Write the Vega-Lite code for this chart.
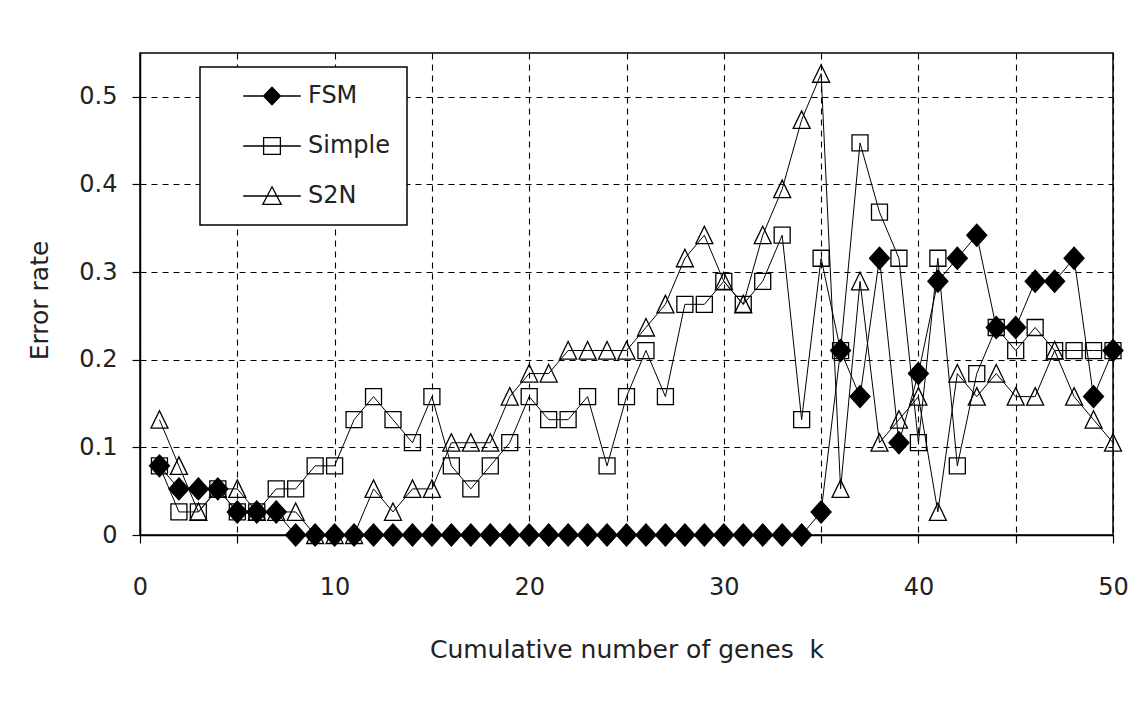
{
  "$schema": "https://vega.github.io/schema/vega-lite/v6.json",
  "autosize": {"type": "none"},
  "padding": {"left": 140, "top": 53, "right": 34, "bottom": 182},
  "width": 973,
  "height": 482,
  "background": "white",
  "data": {"values": [
    {"k":1,"series":"FSM","v":0.0789},{"k":2,"series":"FSM","v":0.0526},{"k":3,"series":"FSM","v":0.0526},{"k":4,"series":"FSM","v":0.0526},{"k":5,"series":"FSM","v":0.0263},
    {"k":6,"series":"FSM","v":0.0263},{"k":7,"series":"FSM","v":0.0263},{"k":8,"series":"FSM","v":0},{"k":9,"series":"FSM","v":0},{"k":10,"series":"FSM","v":0},
    {"k":11,"series":"FSM","v":0},{"k":12,"series":"FSM","v":0},{"k":13,"series":"FSM","v":0},{"k":14,"series":"FSM","v":0},{"k":15,"series":"FSM","v":0},
    {"k":16,"series":"FSM","v":0},{"k":17,"series":"FSM","v":0},{"k":18,"series":"FSM","v":0},{"k":19,"series":"FSM","v":0},{"k":20,"series":"FSM","v":0},
    {"k":21,"series":"FSM","v":0},{"k":22,"series":"FSM","v":0},{"k":23,"series":"FSM","v":0},{"k":24,"series":"FSM","v":0},{"k":25,"series":"FSM","v":0},
    {"k":26,"series":"FSM","v":0},{"k":27,"series":"FSM","v":0},{"k":28,"series":"FSM","v":0},{"k":29,"series":"FSM","v":0},{"k":30,"series":"FSM","v":0},
    {"k":31,"series":"FSM","v":0},{"k":32,"series":"FSM","v":0},{"k":33,"series":"FSM","v":0},{"k":34,"series":"FSM","v":0},{"k":35,"series":"FSM","v":0.0263},
    {"k":36,"series":"FSM","v":0.2105},{"k":37,"series":"FSM","v":0.1579},{"k":38,"series":"FSM","v":0.3158},{"k":39,"series":"FSM","v":0.1053},{"k":40,"series":"FSM","v":0.1842},
    {"k":41,"series":"FSM","v":0.2895},{"k":42,"series":"FSM","v":0.3158},{"k":43,"series":"FSM","v":0.3421},{"k":44,"series":"FSM","v":0.2368},{"k":45,"series":"FSM","v":0.2368},
    {"k":46,"series":"FSM","v":0.2895},{"k":47,"series":"FSM","v":0.2895},{"k":48,"series":"FSM","v":0.3158},{"k":49,"series":"FSM","v":0.1579},{"k":50,"series":"FSM","v":0.2105},

    {"k":1,"series":"Simple","v":0.0789},{"k":2,"series":"Simple","v":0.0263},{"k":3,"series":"Simple","v":0.0263},{"k":4,"series":"Simple","v":0.0526},{"k":5,"series":"Simple","v":0.0263},
    {"k":6,"series":"Simple","v":0.0263},{"k":7,"series":"Simple","v":0.0526},{"k":8,"series":"Simple","v":0.0526},{"k":9,"series":"Simple","v":0.0789},{"k":10,"series":"Simple","v":0.0789},
    {"k":11,"series":"Simple","v":0.1316},{"k":12,"series":"Simple","v":0.1579},{"k":13,"series":"Simple","v":0.1316},{"k":14,"series":"Simple","v":0.1053},{"k":15,"series":"Simple","v":0.1579},
    {"k":16,"series":"Simple","v":0.0789},{"k":17,"series":"Simple","v":0.0526},{"k":18,"series":"Simple","v":0.0789},{"k":19,"series":"Simple","v":0.1053},{"k":20,"series":"Simple","v":0.1579},
    {"k":21,"series":"Simple","v":0.1316},{"k":22,"series":"Simple","v":0.1316},{"k":23,"series":"Simple","v":0.1579},{"k":24,"series":"Simple","v":0.0789},{"k":25,"series":"Simple","v":0.1579},
    {"k":26,"series":"Simple","v":0.2105},{"k":27,"series":"Simple","v":0.1579},{"k":28,"series":"Simple","v":0.2632},{"k":29,"series":"Simple","v":0.2632},{"k":30,"series":"Simple","v":0.2895},
    {"k":31,"series":"Simple","v":0.2632},{"k":32,"series":"Simple","v":0.2895},{"k":33,"series":"Simple","v":0.3421},{"k":34,"series":"Simple","v":0.1316},{"k":35,"series":"Simple","v":0.3158},
    {"k":36,"series":"Simple","v":0.2105},{"k":37,"series":"Simple","v":0.4474},{"k":38,"series":"Simple","v":0.3684},{"k":39,"series":"Simple","v":0.3158},{"k":40,"series":"Simple","v":0.1053},
    {"k":41,"series":"Simple","v":0.3158},{"k":42,"series":"Simple","v":0.0789},{"k":43,"series":"Simple","v":0.1842},{"k":44,"series":"Simple","v":0.2368},{"k":45,"series":"Simple","v":0.2105},
    {"k":46,"series":"Simple","v":0.2368},{"k":47,"series":"Simple","v":0.2105},{"k":48,"series":"Simple","v":0.2105},{"k":49,"series":"Simple","v":0.2105},{"k":50,"series":"Simple","v":0.2105},

    {"k":1,"series":"S2N","v":0.1316},{"k":2,"series":"S2N","v":0.0789},{"k":3,"series":"S2N","v":0.0263},{"k":4,"series":"S2N","v":0.0526},{"k":5,"series":"S2N","v":0.0526},
    {"k":6,"series":"S2N","v":0.0263},{"k":7,"series":"S2N","v":0.0263},{"k":8,"series":"S2N","v":0.0263},{"k":9,"series":"S2N","v":0},{"k":10,"series":"S2N","v":0},
    {"k":11,"series":"S2N","v":0},{"k":12,"series":"S2N","v":0.0526},{"k":13,"series":"S2N","v":0.0263},{"k":14,"series":"S2N","v":0.0526},{"k":15,"series":"S2N","v":0.0526},
    {"k":16,"series":"S2N","v":0.1053},{"k":17,"series":"S2N","v":0.1053},{"k":18,"series":"S2N","v":0.1053},{"k":19,"series":"S2N","v":0.1579},{"k":20,"series":"S2N","v":0.1842},
    {"k":21,"series":"S2N","v":0.1842},{"k":22,"series":"S2N","v":0.2105},{"k":23,"series":"S2N","v":0.2105},{"k":24,"series":"S2N","v":0.2105},{"k":25,"series":"S2N","v":0.2105},
    {"k":26,"series":"S2N","v":0.2368},{"k":27,"series":"S2N","v":0.2632},{"k":28,"series":"S2N","v":0.3158},{"k":29,"series":"S2N","v":0.3421},{"k":30,"series":"S2N","v":0.2895},
    {"k":31,"series":"S2N","v":0.2632},{"k":32,"series":"S2N","v":0.3421},{"k":33,"series":"S2N","v":0.3947},{"k":34,"series":"S2N","v":0.4737},{"k":35,"series":"S2N","v":0.5263},
    {"k":36,"series":"S2N","v":0.0526},{"k":37,"series":"S2N","v":0.2895},{"k":38,"series":"S2N","v":0.1053},{"k":39,"series":"S2N","v":0.1316},{"k":40,"series":"S2N","v":0.1579},
    {"k":41,"series":"S2N","v":0.0263},{"k":42,"series":"S2N","v":0.1842},{"k":43,"series":"S2N","v":0.1579},{"k":44,"series":"S2N","v":0.1842},{"k":45,"series":"S2N","v":0.1579},
    {"k":46,"series":"S2N","v":0.1579},{"k":47,"series":"S2N","v":0.2105},{"k":48,"series":"S2N","v":0.1579},{"k":49,"series":"S2N","v":0.1316},{"k":50,"series":"S2N","v":0.1053}
  ]},
  "encoding": {
    "x": {
      "field": "k", "type": "quantitative",
      "scale": {"domain": [0, 50], "nice": false, "zero": false},
      "axis": {
        "title": "Cumulative number of genes \u00a0k",
        "values": [0, 5, 10, 15, 20, 25, 30, 35, 40, 45, 50],
        "labelExpr": "datum.value % 10 === 0 ? datum.label : ''",
        "labelPadding": 32,
        "titlePadding": 38
      }
    },
    "y": {
      "field": "v", "type": "quantitative",
      "scale": {"domain": [0, 0.55], "nice": false},
      "axis": {
        "title": "Error rate",
        "values": [0, 0.1, 0.2, 0.3, 0.4, 0.5],
        "format": ".1~f",
        "labelPadding": 15,
        "titleX": -93,
        "titleY": 247,
        "titleBaseline": "alphabetic",
        "titleAlign": "center",
        "titleAngle": -90
      }
    }
  },
  "layer": [
    {
      "mark": {"type": "line", "stroke": "black", "strokeWidth": 1},
      "encoding": {"detail": {"field": "series"}}
    },
    {
      "mark": {"type": "point", "filled": true, "stroke": "black", "strokeWidth": 1.3, "size": 400, "opacity": 1},
      "encoding": {
        "shape": {
          "field": "series", "type": "nominal",
          "scale": {
            "domain": ["FSM", "Simple", "S2N"],
            "range": ["M0,-1.1L1,0L0,1.1L-1,0Z", "M-0.8,-0.8H0.8V0.8H-0.8Z", "M0,-0.9L0.85,0.85H-0.85Z"]
          },
          "legend": null
        },
        "fill": {
          "field": "series", "type": "nominal",
          "scale": {"domain": ["FSM", "Simple", "S2N"], "range": ["black", "transparent", "transparent"]},
          "legend": null
        }
      }
    },
    {
      "transform": [{"filter": "datum.k > 1000"}],
      "mark": {"type": "point", "filled": true, "stroke": "black", "strokeWidth": 1.3, "size": 256, "opacity": 1},
      "encoding": {
        "shape": {
          "field": "series", "type": "nominal",
          "scale": {
            "domain": ["FSM", "Simple", "S2N"],
            "range": ["M-3.6,0H3.6M0,-1.1L1.05,0L0,1.1L-1.05,0Z", "M-3.6,0H3.6M-1.05,-1.05H1.05V1.05H-1.05Z", "M-3.6,0H3.6M0,-1.15L1.15,1.05H-1.15Z"]
          },
          "legend": {
            "title": null, "orient": "none", "legendX": 60, "legendY": 14,
            "encode": {"symbols": {"update": {"stroke": {"value": "black"}, "strokeWidth": {"value": 1.3}, "opacity": {"value": 1}}}}
          }
        },
        "fill": {
          "field": "series", "type": "nominal",
          "scale": {"domain": ["FSM", "Simple", "S2N"], "range": ["black", "transparent", "transparent"]},
          "legend": {
            "title": null, "orient": "none", "legendX": 60, "legendY": 14,
            "encode": {"symbols": {"update": {"stroke": {"value": "black"}, "strokeWidth": {"value": 1.3}, "opacity": {"value": 1}}}}
          }
        }
      }
    }
  ],
  "resolve": {"scale": {"shape": "independent", "fill": "independent"}},
  "config": {
    "font": "DejaVu Sans",
    "view": {"stroke": "black", "strokeWidth": 1.5},
    "axis": {
      "grid": true,
      "gridColor": "black",
      "gridDash": [6, 5],
      "gridWidth": 1.1,
      "gridOpacity": 1,
      "domainColor": "black",
      "domainWidth": 1.5,
      "tickColor": "black",
      "tickSize": 8,
      "tickWidth": 1.2,
      "labelFont": "DejaVu Sans",
      "labelFontSize": 24,
      "labelColor": "#222",
      "labelFlush": false,
      "labelOverlap": false,
      "titleFont": "DejaVu Sans",
      "titleFontSize": 25,
      "titleFontWeight": "normal",
      "titleColor": "#222"
    },
    "legend": {
      "strokeColor": "black",
      "strokeWidth": 1.5,
      "fillColor": "white",
      "padding": 17,
      "rowPadding": 26,
      "symbolSize": 256,
      "symbolOffset": 43,
      "labelOffset": 24,
      "symbolStrokeColor": "black",
      "symbolStrokeWidth": 1.3,
      "symbolOpacity": 1,
      "labelFont": "DejaVu Sans",
      "labelFontSize": 24,
      "labelColor": "#222",
      "labelLimit": 0
    }
  }
}
